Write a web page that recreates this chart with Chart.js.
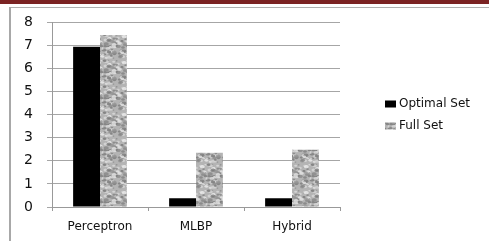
<!DOCTYPE html>
<html>
<head>
<meta charset="utf-8">
<script src="https://cdn.jsdelivr.net/npm/chart.js@4"></script>
<style>
  html, body { margin: 0; padding: 0; background: #fff; }
  #wrap { position: relative; width: 489px; height: 241px; overflow: hidden; }
  #topband { position: absolute; left: 0; top: 0; width: 489px; height: 4px; background: #7b2323; }
  #topline { position: absolute; left: 9px; top: 7px; width: 480px; height: 1px; background: #b0b0b0; }
  #leftline { position: absolute; left: 9px; top: 7px; width: 2px; height: 234px; background: #a8a8a8; }
  canvas { position: absolute; left: 0; top: 0; }
</style>
</head>
<body>
<div id="wrap">
  <div id="topband"></div>
  <div id="topline"></div>
  <div id="leftline"></div>
  <canvas id="c" width="489" height="241"></canvas>
</div>
<script>
const categories = ["Perceptron", "MLBP", "Hybrid"];
const optimalSet = [6.95, 0.38, 0.38];
const fullSet = [7.45, 2.35, 2.48];
const seriesNames = ["Optimal Set", "Full Set"];
const yTicks = [0, 1, 2, 3, 4, 5, 6, 7, 8];

// grey mottled texture (deterministic)
function makePattern() {
  const N = 26;
  const p = document.createElement('canvas');
  p.width = N; p.height = N;
  const g = p.getContext('2d');
  g.fillStyle = '#b4b4b4';
  g.fillRect(0, 0, N, N);
  let s = 424242;
  function rnd() { s = (s * 1103515245 + 12345) & 0x7fffffff; return s / 0x7fffffff; }
  for (let i = 0; i < 90; i++) {
    const x = rnd() * N, y = rnd() * N, r = 0.6 + rnd() * 1.1;
    const dark = rnd() < 0.5;
    const v = dark ? Math.floor(115 + rnd() * 35) : Math.floor(205 + rnd() * 35);
    g.fillStyle = 'rgba(' + v + ',' + v + ',' + v + ',0.8)';
    for (let dx = -N; dx <= N; dx += N) for (let dy = -N; dy <= N; dy += N) {
      g.beginPath();
      g.ellipse(x + dx, y + dy, r * 1.5, r, 0, 0, Math.PI * 2);
      g.fill();
    }
  }
  return g.createPattern(p, 'repeat');
}

const ctx = document.getElementById('c').getContext('2d');
const pattern = makePattern();

const legendPlugin = {
  id: 'customLegend',
  afterDraw(chart) {
    const c = chart.ctx;
    c.save();
    c.font = '12px "DejaVu Sans"';
    c.textBaseline = 'middle';
    c.textAlign = 'left';
    const ys = [104, 126];
    chart.data.datasets.forEach((ds, i) => {
      c.fillStyle = ds.backgroundColor;
      c.fillRect(385, ys[i] - 3.5, 11, 7);
      c.fillStyle = '#111111';
      c.fillText(ds.label, 399, ys[i]);
    });
    c.restore();
  }
};

new Chart(ctx, {
  type: 'bar',
  data: {
    labels: categories,
    datasets: [
      { label: seriesNames[0], data: optimalSet, backgroundColor: '#000000' },
      { label: seriesNames[1], data: fullSet, backgroundColor: pattern }
    ]
  },
  options: {
    responsive: false,
    animation: false,
    devicePixelRatio: 1,
    layout: { padding: { left: 0, right: 149, top: 19, bottom: 0 } },
    plugins: { legend: { display: false }, tooltip: { enabled: false } },
    datasets: { bar: { categoryPercentage: 0.56, barPercentage: 1.0 } },
    scales: {
      x: {
        grid: { display: true, drawOnChartArea: false, drawTicks: true, tickLength: 4, color: '#999999', offset: true },
        border: { display: true, color: '#999999', width: 1 },
        ticks: { color: '#111111', font: { family: 'DejaVu Sans', size: 12 }, padding: 9 },
        afterFit(scale) { scale.height = 34; }
      },
      y: {
        min: 0, max: 8,
        afterBuildTicks(scale) { scale.ticks = yTicks.map(v => ({ value: v })); },
        grid: { color: '#a6a6a6', tickLength: 5, drawTicks: true },
        border: { display: true, color: '#999999', width: 1 },
        ticks: { color: '#111111', font: { family: 'DejaVu Sans', size: 14 }, padding: 14 },
        afterFit(scale) { scale.width = 52; }
      }
    }
  },
  plugins: [legendPlugin]
});
</script>
</body>
</html>
